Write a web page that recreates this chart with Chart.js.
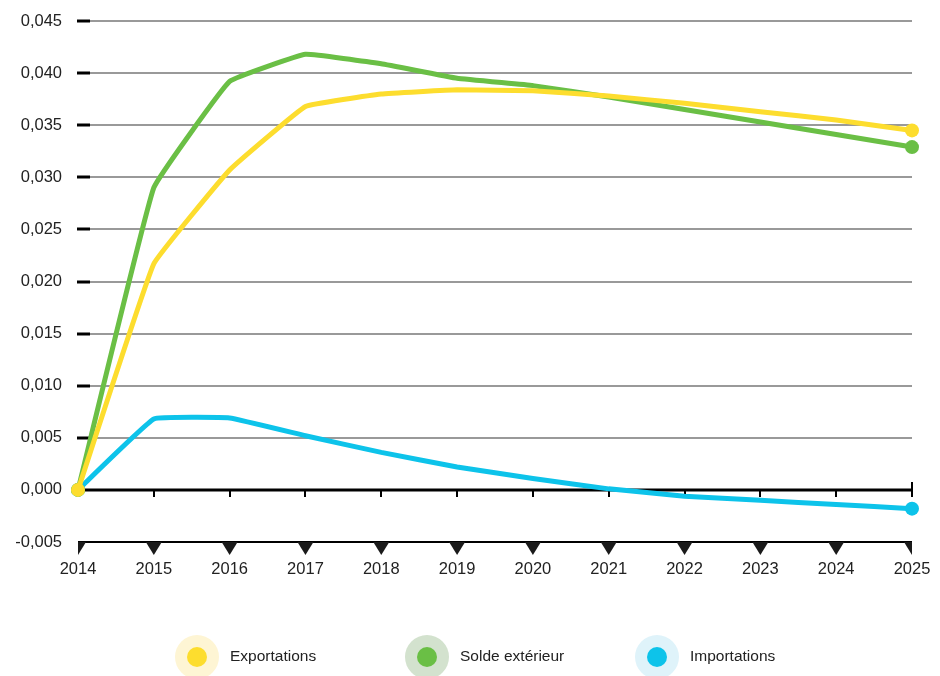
<!DOCTYPE html>
<html>
<head>
<meta charset="utf-8">
<script src="https://cdn.jsdelivr.net/npm/chart.js@4.4.1/dist/chart.umd.min.js"></script>
<style>
  html, body { margin: 0; padding: 0; background: #fff; }
  #wrap { width: 940px; height: 676px; }
</style>
</head>
<body>
<div id="wrap"><canvas id="tradeChart" width="940" height="676"></canvas></div>
<script>
const years = ['2014', '2015', '2016', '2017', '2018', '2019', '2020', '2021', '2022', '2023', '2024', '2025'];
const exportations = [0, 0.0217, 0.0307, 0.0368, 0.0380, 0.0384, 0.0383, 0.0378, 0.0371, 0.0363, 0.0355, 0.0345];
const soldeExterieur = [0, 0.0290, 0.0392, 0.0418, 0.0409, 0.0395, 0.0388, 0.0377, 0.0365, 0.0353, 0.0341, 0.0329];
const importations = [0, 0.0068, 0.0069, 0.0052, 0.0036, 0.0022, 0.0011, 0.0001, -0.0006, -0.0010, -0.0014, -0.0018];
const seriesNames = ['Exportations', 'Solde extérieur', 'Importations'];

const colors = ['#fddd2e', '#6abf45', '#0dc3ea'];
const haloColors = ['#fef5d4', '#d3e2ce', '#dff3fa'];
const font = '"Liberation Sans", Arial, Helvetica, sans-serif';

// only first and last points get a dot
function endDots(r) {
    return years.map((y, i) => (i === 0 || i === years.length - 1) ? r : 0);
}

function makeSet(label, data, color) {
    return {
        label: label,
        data: data,
        borderColor: color,
        backgroundColor: color,
        borderWidth: 5,
        pointRadius: endDots(7),
        pointHoverRadius: 0,
        pointBorderWidth: 0,
        tension: 0.08,
        fill: false
    };
}

// grid, axis lines and triangle markers
const decorations = {
    id: 'decorations',
    beforeDatasetsDraw(chart) {
        const ctx = chart.ctx;
        const x = chart.scales.x;
        const y = chart.scales.y;
        const left = chart.chartArea.left;
        const right = chart.chartArea.right;
        ctx.save();
        y.ticks.forEach(t => {
            const py = Math.round(y.getPixelForValue(t.value));
            if (Math.abs(t.value) < 1e-9 || t.value < -0.0049) return;
            ctx.strokeStyle = '#999';
            ctx.lineWidth = 2;
            ctx.beginPath();
            ctx.moveTo(left + 12, py);
            ctx.lineTo(right, py);
            ctx.stroke();
            ctx.strokeStyle = '#000';
            ctx.lineWidth = 3;
            ctx.beginPath();
            ctx.moveTo(left - 1, py);
            ctx.lineTo(left + 12, py);
            ctx.stroke();
        });

        // zero line with small ticks
        const zy = Math.round(y.getPixelForValue(0));
        ctx.strokeStyle = '#000';
        ctx.lineWidth = 3;
        ctx.beginPath();
        ctx.moveTo(left, zy);
        ctx.lineTo(right, zy);
        ctx.stroke();
        ctx.lineWidth = 2;
        years.forEach((yr, i) => {
            if (i === 0) return;
            const px = Math.round(x.getPixelForValue(i));
            ctx.beginPath();
            ctx.moveTo(px, i === years.length - 1 ? zy - 8 : zy);
            ctx.lineTo(px, zy + 7);
            ctx.stroke();
        });

        // bottom line with triangles
        const by = Math.round(y.getPixelForValue(-0.005));
        ctx.lineWidth = 2;
        ctx.beginPath();
        ctx.moveTo(left, by);
        ctx.lineTo(right, by);
        ctx.stroke();
        ctx.fillStyle = '#1a1a1a';
        ctx.save();
        ctx.beginPath();
        ctx.rect(left, by, right - left, 20);
        ctx.clip();
        years.forEach((yr, i) => {
            const px = x.getPixelForValue(i);
            ctx.beginPath();
            ctx.moveTo(px - 8, by);
            ctx.lineTo(px + 8, by);
            ctx.lineTo(px, by + 13);
            ctx.closePath();
            ctx.fill();
        });
        ctx.restore();
        ctx.restore();
    },
    afterDraw(chart) {
        const ctx = chart.ctx;
        const cy = 657;
        const spots = [197, 427, 657];
        ctx.save();
        seriesNames.forEach((name, i) => {
            ctx.fillStyle = haloColors[i];
            ctx.beginPath();
            ctx.arc(spots[i], cy, 22, 0, Math.PI * 2);
            ctx.fill();
            ctx.fillStyle = colors[i];
            ctx.beginPath();
            ctx.arc(spots[i], cy, 10, 0, Math.PI * 2);
            ctx.fill();
            ctx.fillStyle = '#222';
            ctx.font = '15.5px ' + font;
            ctx.textBaseline = 'middle';
            ctx.textAlign = 'left';
            ctx.fillText(name, spots[i] + 33, cy);
        });
        ctx.restore();
    }
};

new Chart(document.getElementById('tradeChart'), {
    type: 'line',
    data: {
        labels: years,
        datasets: [
            makeSet(seriesNames[0], exportations, colors[0]),
            makeSet(seriesNames[1], soldeExterieur, colors[1]),
            makeSet(seriesNames[2], importations, colors[2])
        ]
    },
    options: {
        responsive: false,
        animation: false,
        layout: { padding: { top: 21, right: 28, bottom: 98, left: 0 } },
        plugins: {
            legend: { display: false },
            tooltip: { enabled: false }
        },
        scales: {
            x: {
                offset: false,
                grid: { display: false, drawTicks: false },
                border: { display: false },
                afterFit(scale) {
                    scale.height = 36;
                    scale.paddingLeft = 0;
                    scale.paddingRight = 0;
                },
                ticks: {
                    color: '#222',
                    font: { family: font, size: 16.5 },
                    padding: 18,
                    maxRotation: 0,
                    autoSkip: false
                }
            },
            y: {
                min: -0.005,
                max: 0.045,
                grid: { display: false, drawTicks: false },
                border: { display: false },
                afterFit(scale) {
                    scale.width = 78;
                    scale.paddingTop = 0;
                    scale.paddingBottom = 0;
                },
                ticks: {
                    stepSize: 0.005,
                    color: '#222',
                    padding: 16,
                    font: { family: font, size: 16.5 },
                    callback: v => (Math.abs(v) < 1e-9 ? 0 : v).toFixed(3).replace('.', ',')
                }
            }
        }
    },
    plugins: [decorations]
});
</script>
</body>
</html>
